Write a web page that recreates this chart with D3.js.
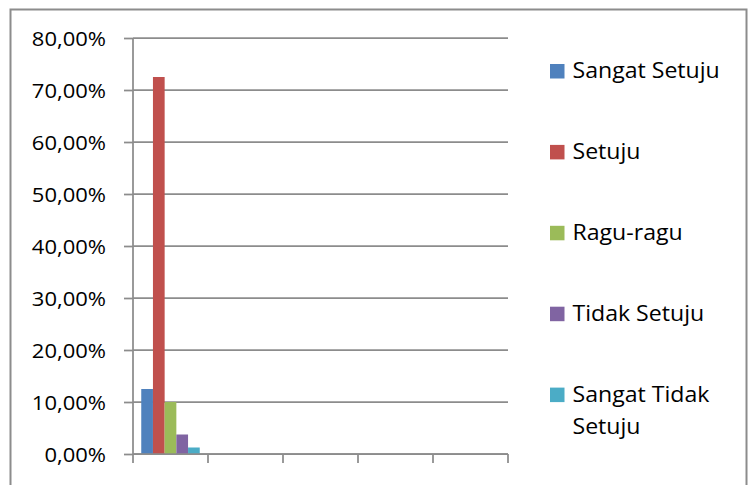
<!DOCTYPE html>
<html>
<head>
<meta charset="utf-8">
<script src="https://cdn.jsdelivr.net/npm/d3@7"></script>
<style>
  html, body { margin: 0; padding: 0; background: #fff; }
  svg { display: block; }
  text { font-family: "Open Sans", "Liberation Sans", sans-serif; fill: #000; }
</style>
</head>
<body>
<svg id="chart" width="751" height="485"></svg>
<script>
// Category slots along the x axis (only the first one carries responses)
const categories = [1, 2, 3, 4, 5];
// Answer options (series)
const seriesNames = ["Sangat Setuju", "Setuju", "Ragu-ragu", "Tidak Setuju", "Sangat Tidak Setuju"];
const seriesColors = ["#4F81BD", "#C0504D", "#9BBB59", "#8064A2", "#4BACC6"];
// Share of respondents per option, first category
const sangatSetuju = [0.125, null, null, null, null];
const setuju = [0.725, null, null, null, null];
const raguRagu = [0.10, null, null, null, null];
const tidakSetuju = [0.0375, null, null, null, null];
const sangatTidakSetuju = [0.0125, null, null, null, null];
const yTicks = [0, 0.1, 0.2, 0.3, 0.4, 0.5, 0.6, 0.7, 0.8];

const seriesValues = [sangatSetuju, setuju, raguRagu, tidakSetuju, sangatTidakSetuju];

const locale = d3.formatLocale({ decimal: ",", thousands: ".", grouping: [3], currency: ["Rp", ""] });
const pct = locale.format(".2%");

const svg = d3.select("#chart");
const lineColor = "#8c8c8c";
const stretch = 1.1;

// Outer chart frame
svg.append("rect")
  .attr("x", 10.5).attr("y", 9.5)
  .attr("width", 736).attr("height", 500)
  .attr("fill", "none").attr("stroke", lineColor).attr("stroke-width", 2);

const plot = { left: 133, right: 508, top: 38, bottom: 454 };

const y = d3.scaleLinear().domain([0, 0.8]).range([plot.bottom, plot.top]);
const x0 = d3.scaleBand().domain(categories).range([plot.left, plot.right]).padding(0);
const x1 = d3.scaleBand().domain(d3.range(seriesNames.length))
  .range([0, x0.bandwidth()]).paddingInner(0).paddingOuter(0.705);

// Horizontal gridlines
svg.append("g").selectAll("line").data(yTicks).join("line")
  .attr("x1", plot.left).attr("x2", plot.right)
  .attr("y1", d => y(d)).attr("y2", d => y(d))
  .attr("stroke", lineColor).attr("stroke-width", 1.75);

// Y axis with outside ticks and comma-decimal percentage labels
const yAxis = svg.append("g").attr("transform", `translate(${plot.left},0)`)
  .call(d3.axisLeft(y).tickValues(yTicks).tickSize(9).tickPadding(0).tickFormat(pct));
yAxis.select(".domain").remove();
yAxis.selectAll(".tick line").attr("stroke", lineColor).attr("stroke-width", 1.75);
yAxis.selectAll(".tick text").remove();
yAxis.selectAll(".tick").append("text")
  .attr("transform", `translate(-27,0) scale(${stretch},1)`)
  .attr("text-anchor", "end")
  .attr("dy", "0.35em")
  .style("font-size", "20px")
  .text(d => pct(d));

// Vertical axis line
svg.append("line")
  .attr("x1", plot.left).attr("x2", plot.left)
  .attr("y1", plot.top).attr("y2", plot.bottom)
  .attr("stroke", lineColor).attr("stroke-width", 1.75);

// Bars
const barGroups = svg.append("g").selectAll("g").data(seriesNames).join("g")
  .attr("fill", (d, i) => seriesColors[i]);
barGroups.each(function (name, si) {
  const vals = categories.map((c, ci) => ({ c, v: seriesValues[si][ci] })).filter(d => d.v != null);
  d3.select(this).selectAll("rect").data(vals).join("rect")
    .attr("x", d => x0(d.c) + x1(si))
    .attr("width", x1.bandwidth())
    .attr("y", d => y(d.v))
    .attr("height", d => y(0) - y(d.v));
});

// X axis with category boundary ticks (no labels)
const xAxisG = svg.append("g").attr("transform", `translate(0,${plot.bottom})`);
xAxisG.append("line")
  .attr("x1", plot.left).attr("x2", plot.right)
  .attr("stroke", lineColor).attr("stroke-width", 1.75);
const boundaries = categories.map(c => x0(c)).concat([x0(categories[categories.length - 1]) + x0.bandwidth()]);
xAxisG.selectAll("line.tk").data(boundaries).join("line").attr("class", "tk")
  .attr("x1", d => d).attr("x2", d => d)
  .attr("y1", 0).attr("y2", 9)
  .attr("stroke", lineColor).attr("stroke-width", 1.75);

// Legend
const legendLines = [["Sangat Setuju"], ["Setuju"], ["Ragu-ragu"], ["Tidak Setuju"], ["Sangat Tidak", "Setuju"]];
const legend = svg.append("g").selectAll("g").data(seriesNames).join("g")
  .attr("transform", (d, i) => `translate(550,${71 + i * 80.9})`);
legend.append("rect")
  .attr("x", 0).attr("y", -7).attr("width", 14.5).attr("height", 14.5)
  .attr("fill", (d, i) => seriesColors[i]);
legend.each(function (d, i) {
  const t = d3.select(this).append("text")
    .attr("transform", `translate(22.5,0) scale(${stretch},1)`)
    .style("font-size", "21px");
  legendLines[i].forEach((ln, k) => {
    t.append("tspan").attr("x", 0).attr("y", 7 + k * 32).text(ln);
  });
});
</script>
</body>
</html>
